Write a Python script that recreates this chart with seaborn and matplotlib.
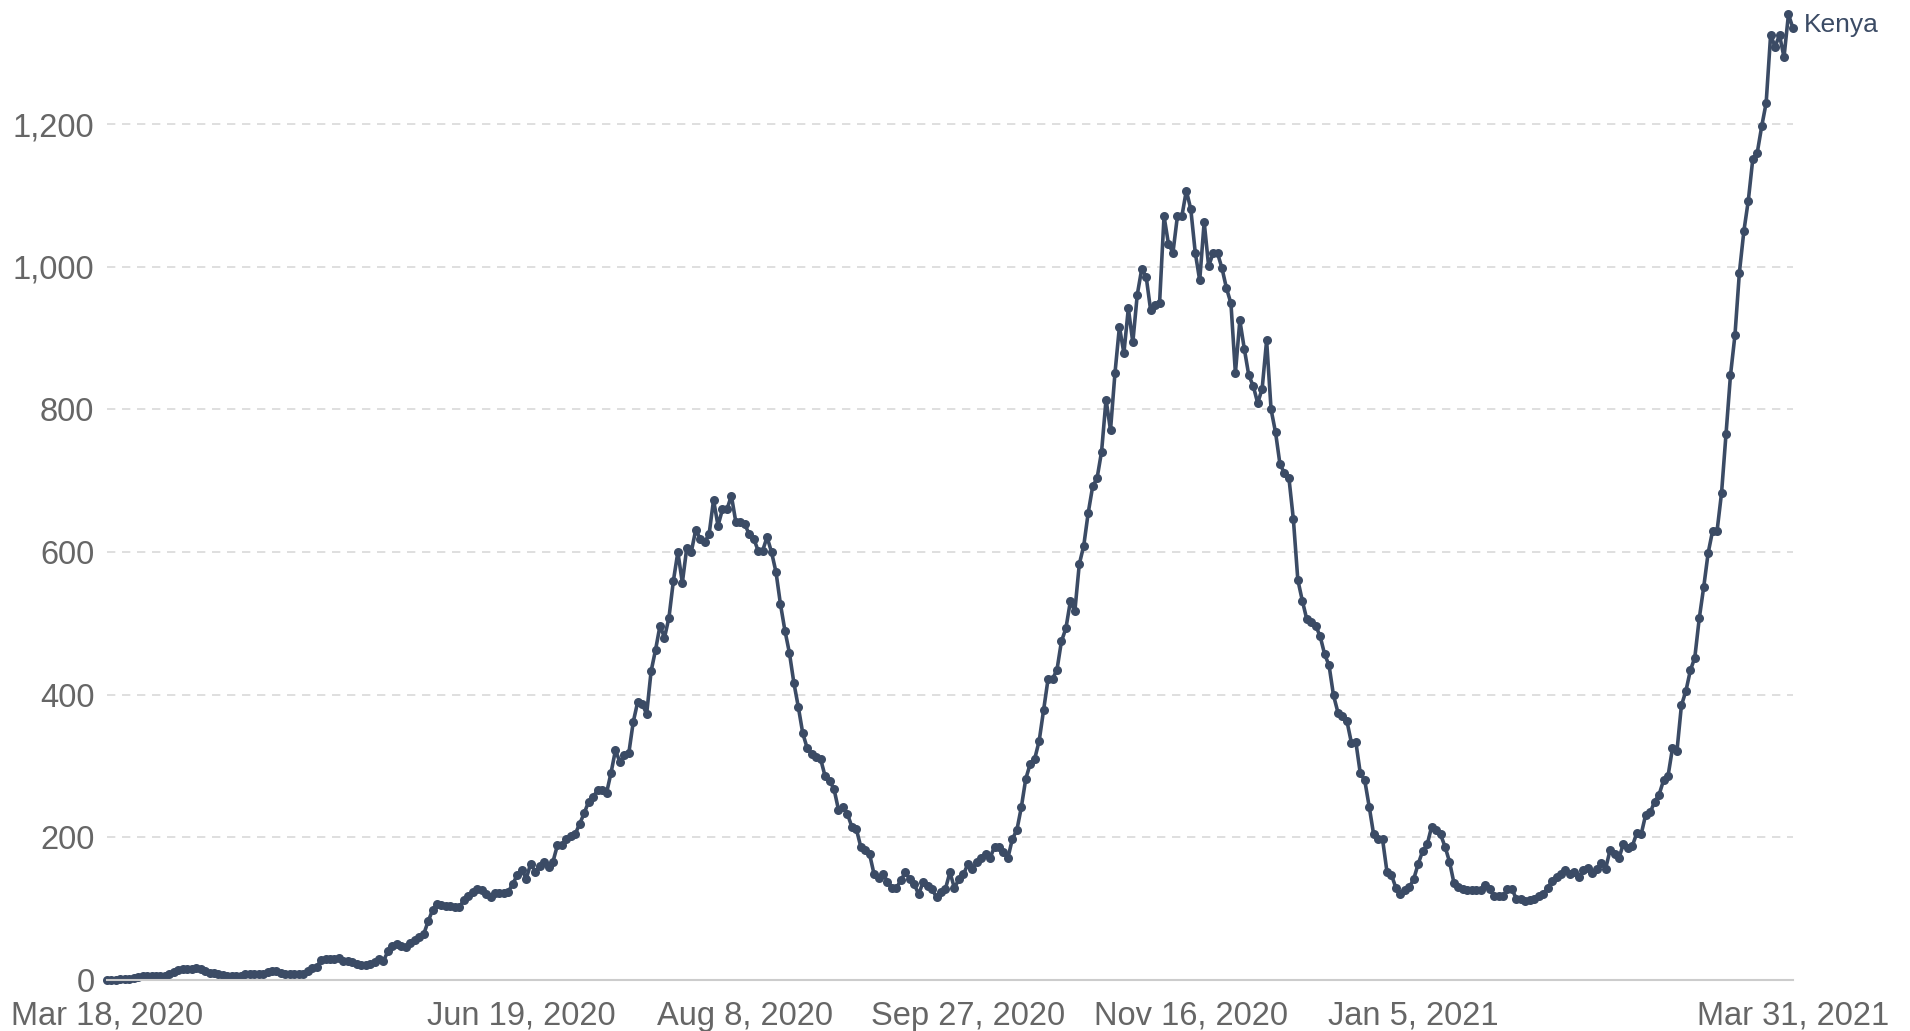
import pandas as pd
import matplotlib.pyplot as plt
import seaborn as sns

# Kenya daily values, one list per month (Mar 18, 2020 - Mar 31, 2021)
mar_2020 = [0, 0, 0, 1, 1, 1, 3, 4, 5, 5, 5, 5, 5, 5]
apr_2020 = [8, 11, 14, 15, 15, 16, 17, 15, 12, 10, 10, 8, 7, 6, 6, 6, 6, 8, 9, 9,
            9, 9, 11, 12, 12, 10, 9, 8, 8, 8]
may_2020 = [9, 13, 17, 18, 28, 30, 30, 30, 31, 27, 26, 25, 22, 21, 21, 22, 25, 29, 27, 40,
            48, 51, 48, 46, 52, 56, 60, 64, 82, 98, 107]
jun_2020 = [105, 104, 104, 103, 102, 112, 118, 124, 127, 126, 121, 117, 122, 122, 122, 124,
            135, 147, 154, 142, 163, 152, 160, 166, 159, 166, 189, 189, 198, 202]
jul_2020 = [205, 219, 234, 250, 257, 266, 266, 262, 290, 322, 306, 315, 318, 362, 390, 387,
            373, 433, 463, 497, 480, 508, 560, 600, 557, 606, 600, 631, 619, 614, 625]
aug_2020 = [673, 637, 660, 660, 679, 642, 642, 639, 625, 619, 602, 602, 621, 600, 572, 527,
            490, 459, 417, 383, 346, 325, 317, 313, 310, 286, 279, 268, 239, 243, 233]
sep_2020 = [215, 212, 187, 182, 176, 148, 143, 149, 138, 129, 129, 140, 151, 141, 134, 120,
            138, 132, 127, 116, 123, 128, 151, 129, 141, 148, 162, 155, 166, 171]
oct_2020 = [176, 171, 187, 187, 179, 171, 198, 210, 242, 282, 303, 310, 335, 378, 422, 422,
            435, 475, 493, 531, 517, 583, 609, 655, 692, 704, 741, 814, 771, 851, 916]
nov_2020 = [879, 942, 894, 961, 997, 986, 939, 947, 949, 1071, 1032, 1020, 1071, 1071, 1107,
            1081, 1020, 981, 1063, 1001, 1019, 1019, 998, 970, 949, 851, 925, 885, 848, 833]
dec_2020 = [809, 829, 897, 800, 768, 723, 711, 704, 646, 561, 532, 506, 502, 497, 482, 457,
            441, 399, 375, 370, 363, 333, 334, 290, 280, 243, 204, 198, 197, 151, 147]
jan_2021 = [129, 120, 126, 130, 142, 163, 181, 190, 215, 211, 204, 187, 166, 136, 131, 128,
            126, 126, 126, 126, 133, 128, 118, 118, 118, 127, 127, 114, 113, 111, 112]
feb_2021 = [114, 118, 121, 129, 139, 145, 148, 154, 148, 151, 145, 154, 157, 150, 155, 164,
            156, 182, 176, 171, 191, 185, 188, 206, 205, 232, 235, 250]
mar_2021 = [260, 280, 286, 325, 321, 385, 405, 434, 452, 507, 551, 599, 630, 630, 683, 766,
            848, 904, 992, 1050, 1093, 1151, 1160, 1197, 1230, 1325, 1309, 1325, 1294, 1354, 1335]

tick_dates = ["2020-03-18", "2020-06-19", "2020-08-08", "2020-09-27",
              "2020-11-16", "2021-01-05", "2021-03-31"]
y_ticks = [0, 200, 400, 600, 800, 1000, 1200]
country = "Kenya"

values = (mar_2020 + apr_2020 + may_2020 + jun_2020 + jul_2020 + aug_2020 + sep_2020
          + oct_2020 + nov_2020 + dec_2020 + jan_2021 + feb_2021 + mar_2021)
df = pd.DataFrame({
    "date": pd.date_range("2020-03-18", periods=len(values), freq="D"),
    "cases": values,
})

sns.set_style("white")
plt.rcParams["font.family"] = ["Liberation Sans", "DejaVu Sans"]

line_color = "#3b4b65"
text_color = "#666666"

fig = plt.figure(figsize=(19.1, 10.31), dpi=100)
ax = fig.add_axes([0.056, 0.0495, 0.8827, 0.9455])

sns.lineplot(data=df, x="date", y="cases", ax=ax, color=line_color, linewidth=2.6,
             marker="o", markersize=6.5, markeredgewidth=0, clip_on=False)

ax.set_xlim(df["date"].iloc[0], df["date"].iloc[-1])
ax.set_ylim(0, 1367)

# ticks / labels
ticks = pd.to_datetime(tick_dates)
ax.set_xticks(ticks)
ax.set_xticklabels([d.strftime("%b ") + str(d.day) + d.strftime(", %Y") for d in ticks])
ax.set_yticks(y_ticks)
ax.set_yticklabels([f"{v:,}" for v in y_ticks])
ax.tick_params(axis="x", length=8, width=1, color="#cccccc", pad=7,
               labelsize=23.5, labelcolor=text_color)
ax.tick_params(axis="y", length=0, pad=9, labelsize=23.5, labelcolor=text_color)
ax.set_xlabel("")
ax.set_ylabel("")

# grid and spines
for v in y_ticks[1:]:
    ax.axhline(v, color="#d9d9d9", linewidth=1.2, linestyle=(0, (5, 4)), zorder=0)
for side in ["top", "right", "left"]:
    ax.spines[side].set_visible(False)
ax.spines["bottom"].set_color("#cccccc")
ax.spines["bottom"].set_linewidth(1.5)

# series label at the end of the line
ax.annotate(country, xy=(df["date"].iloc[-1], df["cases"].iloc[-1]),
            xytext=(8, 2), textcoords="offset points", va="center", ha="left",
            fontsize=19, color=line_color)

fig.savefig("out.png", dpi=100)
